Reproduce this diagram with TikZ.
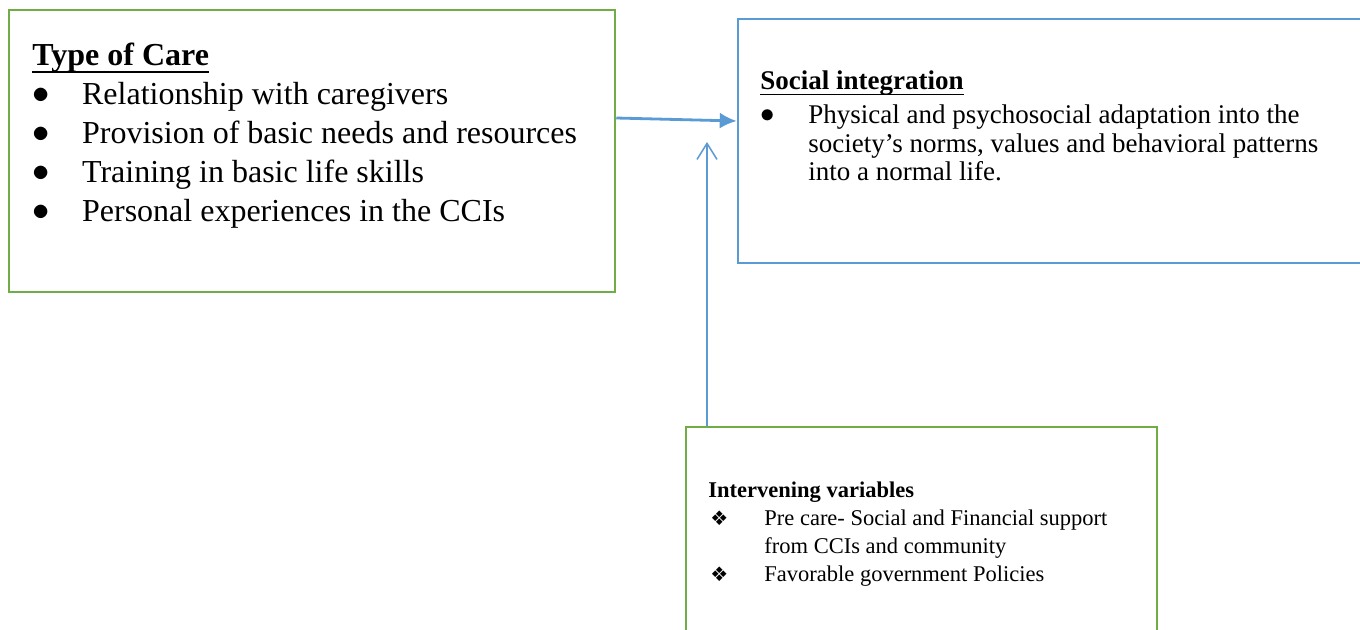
\documentclass[tikz,border=0pt]{standalone}
\usepackage{fontspec}
\setmainfont{Liberation Serif}
\newfontfamily\symfont{DejaVu Sans}
\usepackage{tikz}
\usetikzlibrary{arrows.meta,positioning,calc}

\definecolor{boxgreen}{HTML}{70AD47}
\definecolor{boxblue}{HTML}{5B9BD5}

% underlined heading, rule set close to the baseline
\newsavebox{\ulheadbox}
\newcommand{\ulhead}[1]{\sbox{\ulheadbox}{#1}\rlap{\rule[-0.21em]{\wd\ulheadbox}{0.065em}}\usebox{\ulheadbox}}
% list markers
\newcommand{\carebul}{\makebox[24.85pt][l]{\raisebox{0.06em}{$\bullet$}}}
\newcommand{\integbul}{\makebox[24pt][l]{\raisebox{0.06em}{$\bullet$}}}
\newcommand{\varbul}{\makebox[28pt][l]{\hspace{1pt}{\symfont\fontsize{10}{14}\selectfont ❖}}}

\begin{document}
\begin{tikzpicture}[x=0.5pt,y=-0.5pt,
    greenbox/.style={draw=boxgreen,line width=1.25pt,inner sep=0pt},
    bluebox/.style={draw=boxblue,line width=1.25pt,inner sep=0pt},
    boxtext/.style={anchor=north west,inner sep=0pt,align=left}]

            % Page frame
            \useasboundingbox[fill=white] (0,0) rectangle (1360,629);
            \clip (0,0) rectangle (1360,629);

            % Boxes
            \node[greenbox,minimum width=303pt,minimum height=141pt] (careBox) at (312,151) {};
            \node[bluebox,minimum width=331pt,minimum height=122pt] (integBox) at (1069,141) {};
            \node[greenbox,minimum width=235.5pt,minimum height=126.5pt] (varBox) at (921.5,553.5) {};

            % Box texts
            \node[boxtext,font=\fontsize{16}{19.5}\selectfont] (careText) at (32,43) {\textbf{\ulhead{Type of Care}}\\
                \carebul Relationship with caregivers\\
                \carebul Provision of basic needs and resources\\
                \carebul Training in basic life skills\\
                \carebul Personal experiences in the CCIs};
            \node[boxtext,font=\fontsize{13.5}{14.25}\selectfont] (integText) at (760,70.6) {\textbf{\ulhead{Social integration}}\\[2.75pt]
                \integbul Physical and psychosocial adaptation into the\\
                \hspace*{24pt}society's norms, values and behavioral patterns\\
                \hspace*{24pt}into a normal life.};
            \node[boxtext,font=\fontsize{11.25}{14}\selectfont] (varText) at (708,481.6) {\textbf{Intervening variables}\\
                \varbul Pre care- Social and Financial support\\
                \hspace*{28pt}from CCIs and community\\
                \varbul Favorable government Policies};

            % Free end of the upward arrow
            \coordinate (feedTip) at (707,142);

            % Arcs
            \draw[-{Latex[length=8.5pt,width=8pt]},boxblue,line width=1.4pt] ([yshift=16.5pt]careBox.east) -- ([yshift=10pt]integBox.west);
            \draw[-{Straight Barb[length=8pt,width=10pt]},boxblue,line width=0.75pt] (varBox.north -| feedTip) -- (feedTip);

\end{tikzpicture}
\end{document}
